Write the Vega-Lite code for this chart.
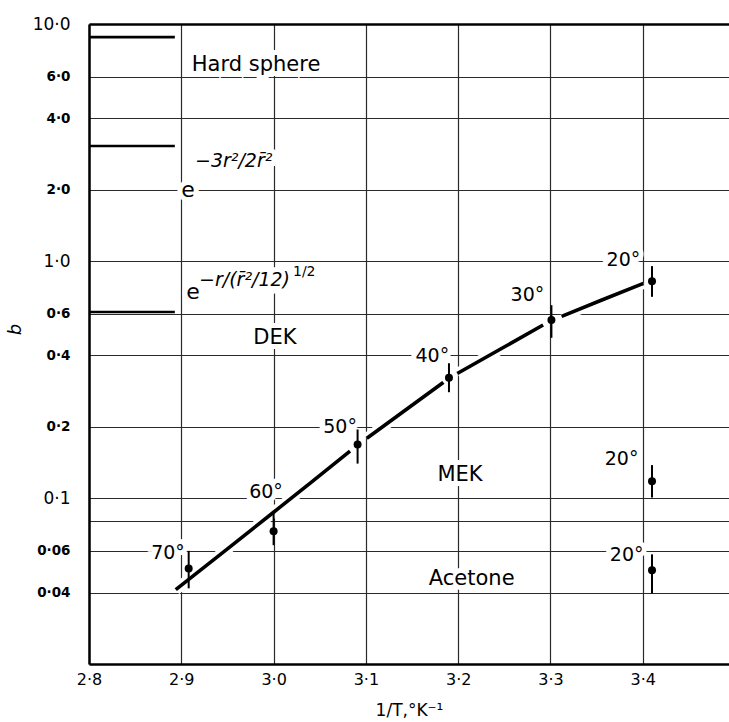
{
  "$schema": "https://vega.github.io/schema/vega-lite/v6.json",
  "width": 640,
  "height": 640,
  "autosize": "none",
  "padding": {"left": 89, "top": 24, "right": 0, "bottom": 58},
  "background": "white",
  "config": {
    "view": {"stroke": null},
    "font": "DejaVu Sans",
    "text": {"font": "DejaVu Sans", "color": "black"}
  },
  "datasets": {
    "points": [
      {"t": "70°", "solvent": "MEK", "x": 2.908, "b": 0.0505, "lo": 0.0417, "hi": 0.06},
      {"t": "60°", "solvent": "MEK", "x": 3.0, "b": 0.0726, "lo": 0.0634, "hi": 0.0875},
      {"t": "50°", "solvent": "MEK", "x": 3.091, "b": 0.1685, "lo": 0.14, "hi": 0.195},
      {"t": "40°", "solvent": "MEK", "x": 3.19, "b": 0.322, "lo": 0.28, "hi": 0.371},
      {"t": "30°", "solvent": "MEK", "x": 3.301, "b": 0.564, "lo": 0.475, "hi": 0.652},
      {"t": "20°", "solvent": "DEK", "x": 3.41, "b": 0.823, "lo": 0.707, "hi": 0.953},
      {"t": "20°", "solvent": "MEK", "x": 3.41, "b": 0.118, "lo": 0.1007, "hi": 0.138},
      {"t": "20°", "solvent": "Acetone", "x": 3.41, "b": 0.0497, "lo": 0.0397, "hi": 0.058}
    ],
    "curve": [
      {"seg": 1, "x": 2.894, "b": 0.0412},
      {"seg": 1, "x": 2.95, "b": 0.0612},
      {"seg": 1, "x": 3.0, "b": 0.0873},
      {"seg": 1, "x": 3.04, "b": 0.1161},
      {"seg": 1, "x": 3.0828, "b": 0.158},
      {"seg": 2, "x": 3.1009, "b": 0.179},
      {"seg": 2, "x": 3.14, "b": 0.231},
      {"seg": 2, "x": 3.1839, "b": 0.308},
      {"seg": 3, "x": 3.199, "b": 0.336},
      {"seg": 3, "x": 3.245, "b": 0.424},
      {"seg": 3, "x": 3.292, "b": 0.5376},
      {"seg": 4, "x": 3.312, "b": 0.585},
      {"seg": 4, "x": 3.355, "b": 0.684},
      {"seg": 4, "x": 3.4006, "b": 0.805}
    ],
    "refs": [
      {"model": "Hard sphere", "x": 2.8, "x2": 2.893, "b": 8.8},
      {"model": "Gaussian", "x": 2.8, "x2": 2.893, "b": 3.06},
      {"model": "Exponential", "x": 2.8, "x2": 2.893, "b": 0.61}
    ],
    "names": [
      {"text": "Hard sphere", "x": 2.981, "b": 6.71},
      {"text": "DEK", "x": 3.0015, "b": 0.476},
      {"text": "MEK", "x": 3.202, "b": 0.125},
      {"text": "Acetone", "x": 3.2146, "b": 0.0455}
    ],
    "temps": [
      {"text": "70°", "x": 2.8856, "b": 0.0586},
      {"text": "60°", "x": 2.9918, "b": 0.106},
      {"text": "50°", "x": 3.072, "b": 0.2},
      {"text": "40°", "x": 3.172, "b": 0.397},
      {"text": "30°", "x": 3.275, "b": 0.719},
      {"text": "20°", "x": 3.379, "b": 1.01},
      {"text": "20°", "x": 3.377, "b": 0.146},
      {"text": "20°", "x": 3.3825, "b": 0.0575}
    ],
    "formula": [
      {"part": "base", "text": "e", "x": 2.9073, "b": 1.994},
      {"part": "exp", "text": "−3r²/2r̄²", "x": 2.9148, "b": 2.64},
      {"part": "base", "text": "e", "x": 2.9127, "b": 0.742},
      {"part": "exp", "text": "−r/(r̄²/12)", "x": 2.9192, "b": 0.8313},
      {"part": "sup", "text": "1/2", "x": 3.021, "b": 0.9015}
    ]
  },
  "encoding": {
    "x": {
      "field": "x",
      "type": "quantitative",
      "scale": {"domain": [2.8, 3.4934], "nice": false, "zero": false},
      "axis": {
        "title": "1/T,°K⁻¹",
        "titleFont": "DejaVu Sans",
        "titleFontSize": 17,
        "titleFontWeight": "normal",
        "titleColor": "black",
        "titleY": 46,
        "titleBaseline": "middle",
        "values": [2.8, 2.9, 3.0, 3.1, 3.2, 3.3, 3.4],
        "labelExpr": "replace(format(datum.value, '.1f'), '.', '·')",
        "labelFontSize": 16,
        "labelColor": "black",
        "labelPadding": 7,
        "labelFlush": false,
        "ticks": false,
        "domainColor": "black",
        "domainWidth": 2.5,
        "grid": true,
        "gridColor": "#2a2a2a",
        "gridWidth": 1.2,
        "gridOpacity": 1
      }
    },
    "y": {
      "field": "b",
      "type": "quantitative",
      "scale": {"type": "log", "domain": [0.02, 10], "nice": false},
      "axis": {
        "title": "b",
        "titleFont": "DejaVu Sans",
        "titleFontStyle": "italic",
        "titleFontWeight": "normal",
        "titleFontSize": 18,
        "titleColor": "black",
        "titleX": -74,
        "titleY": 305,
        "titleAngle": -90,
        "titleBaseline": "middle",
        "values": [0.04, 0.06, 0.08, 0.1, 0.2, 0.4, 0.6, 1, 2, 4, 6, 10],
        "labelExpr": "datum.value == 0.08 ? '' : replace(datum.value >= 1 ? format(datum.value, '.1f') : format(datum.value, '~g'), '.', '·')",
        "labelFontSize": {"condition": {"test": "datum.value == 10 || datum.value == 1 || datum.value == 0.1", "value": 17}, "value": 13.5},
        "labelFontWeight": {"condition": {"test": "datum.value == 10 || datum.value == 1 || datum.value == 0.1", "value": "normal"}, "value": "bold"},
        "labelColor": "black",
        "labelPadding": 19,
        "labelFlush": false,
        "ticks": false,
        "domainColor": "black",
        "domainWidth": 2.5,
        "grid": true,
        "gridColor": {"condition": {"test": "datum.value == 10", "value": "black"}, "value": "#2a2a2a"},
        "gridWidth": {"condition": {"test": "datum.value == 10", "value": 2.5}, "value": 1.2},
        "gridOpacity": 1
      }
    }
  },
  "layer": [
    {
      "data": {"name": "names"},
      "mark": {"type": "text", "fontSize": 21, "align": "center", "baseline": "middle", "stroke": "white", "strokeWidth": 10, "fill": "white"},
      "encoding": {"text": {"field": "text"}}
    },
    {
      "data": {"name": "temps"},
      "mark": {"type": "text", "fontSize": 19, "align": "center", "baseline": "middle", "stroke": "white", "strokeWidth": 10, "fill": "white"},
      "encoding": {"text": {"field": "text"}}
    },
    {
      "data": {"name": "formula"},
      "transform": [{"filter": "datum.part == 'base'"}],
      "mark": {"type": "text", "fontSize": 22, "align": "center", "baseline": "middle", "stroke": "white", "strokeWidth": 10, "fill": "white"},
      "encoding": {"text": {"field": "text"}}
    },
    {
      "data": {"name": "formula"},
      "transform": [{"filter": "datum.part == 'exp'"}],
      "mark": {"type": "text", "fontSize": 19, "fontStyle": "italic", "align": "left", "baseline": "middle", "stroke": "white", "strokeWidth": 10, "fill": "white"},
      "encoding": {"text": {"field": "text"}}
    },
    {
      "data": {"name": "formula"},
      "transform": [{"filter": "datum.part == 'sup'"}],
      "mark": {"type": "text", "fontSize": 14, "align": "left", "baseline": "middle", "stroke": "white", "strokeWidth": 8, "fill": "white"},
      "encoding": {"text": {"field": "text"}}
    },
    {
      "data": {"name": "curve"},
      "mark": {"type": "line", "stroke": "white", "strokeWidth": 11, "interpolate": "monotone", "strokeCap": "butt"},
      "encoding": {"detail": {"field": "seg"}}
    },
    {
      "data": {"name": "refs"},
      "mark": {"type": "rule", "color": "black", "strokeWidth": 2.6},
      "encoding": {"x2": {"field": "x2"}}
    },
    {
      "data": {"name": "curve"},
      "mark": {"type": "line", "color": "black", "strokeWidth": 3.6, "interpolate": "monotone", "strokeCap": "butt"},
      "encoding": {"detail": {"field": "seg"}}
    },
    {
      "data": {"name": "points"},
      "mark": {"type": "rule", "color": "black", "strokeWidth": 2},
      "encoding": {"y": {"field": "lo", "type": "quantitative"}, "y2": {"field": "hi"}}
    },
    {
      "data": {"name": "points"},
      "mark": {"type": "point", "shape": "circle", "filled": true, "color": "black", "opacity": 1, "size": 64},
      "encoding": {}
    },
    {
      "data": {"name": "names"},
      "mark": {"type": "text", "fontSize": 21, "align": "center", "baseline": "middle"},
      "encoding": {"text": {"field": "text"}}
    },
    {
      "data": {"name": "temps"},
      "mark": {"type": "text", "fontSize": 19, "align": "center", "baseline": "middle"},
      "encoding": {"text": {"field": "text"}}
    },
    {
      "data": {"name": "formula"},
      "transform": [{"filter": "datum.part == 'base'"}],
      "mark": {"type": "text", "fontSize": 22, "align": "center", "baseline": "middle"},
      "encoding": {"text": {"field": "text"}}
    },
    {
      "data": {"name": "formula"},
      "transform": [{"filter": "datum.part == 'exp'"}],
      "mark": {"type": "text", "fontSize": 19, "fontStyle": "italic", "align": "left", "baseline": "middle"},
      "encoding": {"text": {"field": "text"}}
    },
    {
      "data": {"name": "formula"},
      "transform": [{"filter": "datum.part == 'sup'"}],
      "mark": {"type": "text", "fontSize": 14, "align": "left", "baseline": "middle"},
      "encoding": {"text": {"field": "text"}}
    }
  ]
}
